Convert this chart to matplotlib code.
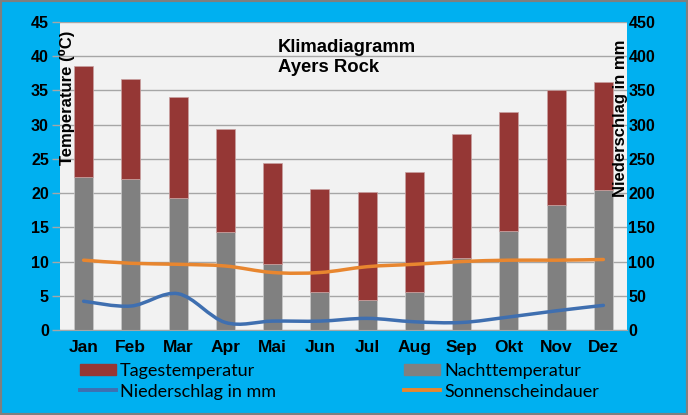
import matplotlib.pyplot as plt
import numpy as np
from matplotlib.path import Path
from matplotlib.patches import PathPatch, Patch, Rectangle
from matplotlib.lines import Line2D

# Klimadaten Ayers Rock
monate = ['Jan', 'Feb', 'Mar', 'Apr', 'Mai', 'Jun', 'Jul', 'Aug', 'Sep', 'Okt', 'Nov', 'Dez']
tages_temp = [38.5, 36.7, 34.1, 29.3, 24.4, 20.6, 20.2, 23.1, 28.6, 31.9, 35.0, 36.3]
nacht_temp = [22.3, 22.0, 19.3, 14.3, 9.7, 5.5, 4.4, 5.6, 10.5, 14.5, 18.3, 20.5]
niederschlag = [42, 35, 53, 11, 13, 13, 17, 12, 11, 19, 28, 36]
sonnenschein = [10.2, 9.75, 9.6, 9.35, 8.4, 8.4, 9.25, 9.6, 10.0, 10.2, 10.2, 10.3]

ROT = '#953735'
GRAU = '#808080'
BLAU = '#3F6FB0'
ORANGE = '#E8862F'
CYAN = '#00B0F0'

plt.rcParams['font.family'] = ['Liberation Sans', 'DejaVu Sans']


def smooth_path(xs, ys):
    # geglaettete Linie wie in Excel (Bezier-Segmente durch die Punkte)
    pts = np.column_stack([xs, ys]).astype(float)
    n = len(pts)
    verts = [pts[0]]
    codes = [Path.MOVETO]
    for i in range(n - 1):
        p0 = pts[i - 1] if i > 0 else pts[i]
        p1 = pts[i]
        p2 = pts[i + 1]
        p3 = pts[i + 2] if i + 2 < n else pts[i + 1]
        verts += [p1 + (p2 - p0) / 6, p2 - (p3 - p1) / 6, p2]
        codes += [Path.CURVE4] * 3
    return Path(verts, codes)


fig = plt.figure(figsize=(6.88, 4.15), dpi=100, facecolor=CYAN)
ax = fig.add_axes([60 / 688, 1 - 330 / 415, 567 / 688, 308 / 415])
ax.set_facecolor('#F2F2F2')

x = np.arange(len(monate))
diff = [t - n for t, n in zip(tages_temp, nacht_temp)]
ax.bar(x, nacht_temp, width=0.4, color=GRAU, edgecolor='#C8C8C8', linewidth=0.5, zorder=2)
ax.bar(x, diff, bottom=nacht_temp, width=0.4, color=ROT, edgecolor='#C8A0A0', linewidth=0.5, zorder=2)

ax.add_patch(PathPatch(smooth_path(x, sonnenschein), fill=False, edgecolor=ORANGE,
                       lw=2.5, capstyle='round', zorder=3))

ax.set_xlim(-0.5, 11.5)
ax.set_ylim(0, 45)
ax.set_yticks(np.arange(0, 46, 5))
ax.set_xticks(x)
ax.set_xticklabels(monate)
ax.yaxis.grid(True, color='#A6A6A6', lw=1, zorder=0)
ax.set_axisbelow(True)
for s in ['left', 'right', 'top']:
    ax.spines[s].set_visible(False)
ax.spines['bottom'].set_color('#A6A6A6')
ax.tick_params(axis='y', length=6, color='#A6A6A6', width=1, pad=2,
               labelsize=11.5)
ax.tick_params(axis='x', length=0, pad=7, labelsize=12.5)
for lab in ax.get_yticklabels() + ax.get_xticklabels():
    lab.set_fontweight('bold')

ax2 = ax.twinx()
ax2.set_ylim(0, 450)
ax2.set_yticks(np.arange(0, 451, 50))
ax2.add_patch(PathPatch(smooth_path(x, niederschlag), fill=False, edgecolor=BLAU,
                        lw=2.5, capstyle='round', zorder=3))
for s in ax2.spines.values():
    s.set_visible(False)
ax2.tick_params(axis='y', length=0, pad=1, labelsize=11.5)
for lab in ax2.get_yticklabels():
    lab.set_fontweight('bold')

# Titel und Achsentitel
fig.text(278 / 688, 1 - 39 / 415, 'Klimadiagramm\nAyers Rock', fontsize=13.3,
         fontweight='bold', ha='left', va='top', linespacing=1.25)
fig.text(67 / 688, 1 - 98 / 415, 'Temperature (⁰C)', fontsize=12, fontweight='bold',
         rotation=90, ha='center', va='center')
fig.text(620 / 688, 1 - 118 / 415, 'Niederschlag in mm', fontsize=12, fontweight='bold',
         rotation=90, ha='center', va='center')

handles = [Patch(color=ROT), Line2D([], [], color=BLAU, lw=2.8),
           Patch(color=GRAU), Line2D([], [], color=ORANGE, lw=2.8)]
labels = ['Tagestemperatur', 'Niederschlag in mm', 'Nachttemperatur', 'Sonnenscheindauer']
fig.legend(handles, labels, ncol=2, loc='upper left', bbox_to_anchor=(80 / 688, 1 - 363 / 415),
           frameon=False, borderpad=0, borderaxespad=0, handlelength=2.0, handleheight=0.6,
           handletextpad=0.22, labelspacing=0.25, columnspacing=7.1,
           prop={'family': ['Lato', 'DejaVu Sans'], 'size': 13})

fig.add_artist(Rectangle((0, 0), 1, 1, transform=fig.transFigure, fill=False,
                         edgecolor='#7F7F7F', lw=3))

fig.savefig('out.png', dpi=100, facecolor=CYAN)
